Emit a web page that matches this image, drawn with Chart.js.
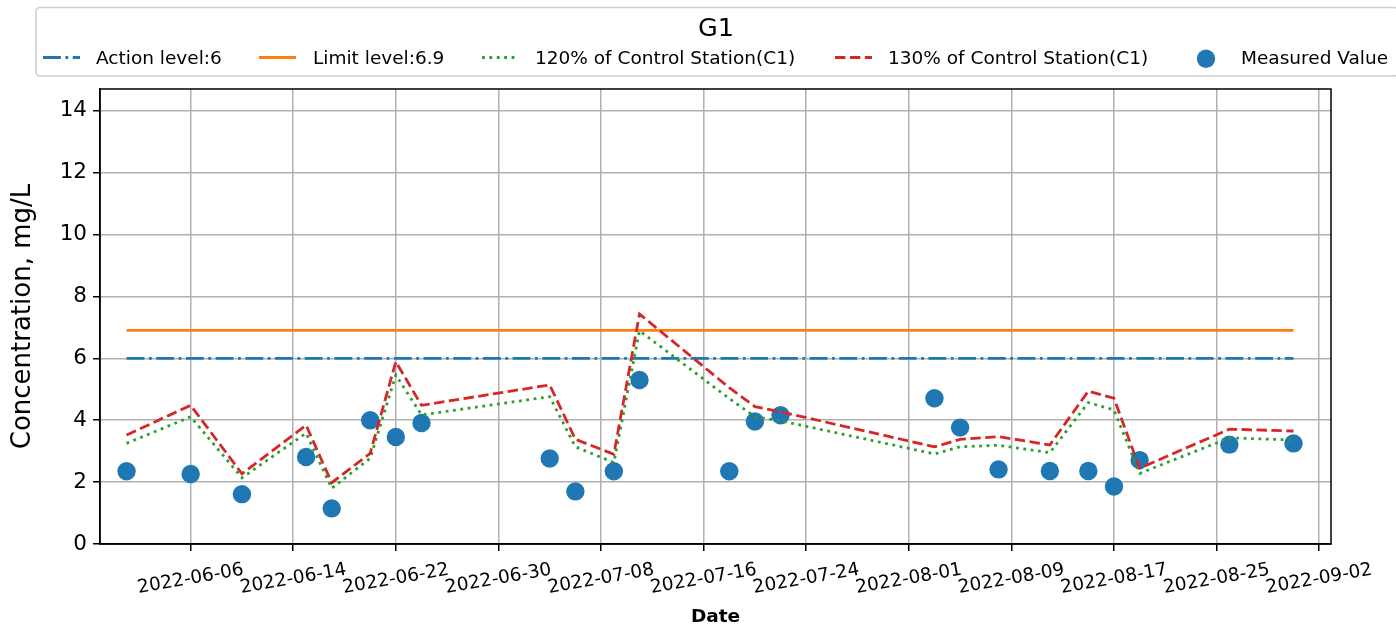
<!DOCTYPE html>
<html><head><meta charset="utf-8">
<script src="https://cdn.jsdelivr.net/npm/chart.js@4.4.1/dist/chart.umd.min.js"></script>
<style>html,body{margin:0;padding:0;background:#fff;overflow:hidden}#wrap{width:1396px;height:629px;position:relative}</style>
</head><body><div id="wrap"><canvas id="c" width="1396" height="629"></canvas></div>
<script>
// ---------- data ----------
const chartTitle = 'G1';
const seriesLabels = ['Action level:6', 'Limit level:6.9', '120% of Control Station(C1)', '130% of Control Station(C1)', 'Measured Value'];
const dates = ['2022-06-01','2022-06-06','2022-06-10','2022-06-15','2022-06-17','2022-06-20','2022-06-22','2022-06-24',
               '2022-07-04','2022-07-06','2022-07-09','2022-07-11','2022-07-18','2022-07-20','2022-07-22',
               '2022-08-03','2022-08-05','2022-08-08','2022-08-12','2022-08-15','2022-08-17','2022-08-19','2022-08-26','2022-08-31'];
const measured   = [2.35,2.26,1.61,2.81,1.15,4.00,3.46,3.91, 2.76,1.70,2.35,5.30,2.35,3.96,4.16, 4.71,3.76,2.41,2.36,2.36,1.86,2.71,3.21,3.25];
const control120 = [3.25,4.11,2.14,3.58,1.80,2.77,5.46,4.17, 4.76,3.14,2.63,6.89,4.70,4.11,3.98, 2.91,3.14,3.19,2.95,4.57,4.33,2.28,3.43,3.36];
const control130 = [3.52,4.48,2.27,3.84,1.98,2.93,5.89,4.48, 5.14,3.38,2.90,7.43,5.05,4.44,4.27, 3.14,3.38,3.47,3.20,4.94,4.71,2.45,3.71,3.65];
const actionLevel = 6;
const limitLevel = 6.9;
const xTickLabels = ['2022-06-06','2022-06-14','2022-06-22','2022-06-30','2022-07-08','2022-07-16','2022-07-24',
                     '2022-08-01','2022-08-09','2022-08-17','2022-08-25','2022-09-02'];
const yTicks = [0,2,4,6,8,10,12,14];
const xRange = ['2022-05-29T22:20:00Z','2022-09-02T22:10:00Z'];
const yRange = [0, 14.7];
const xTitle = 'Date';
const yTitle = 'Concentration, mg/L';

// ---------- chart ----------
const FONT = "'DejaVu Sans', 'Liberation Sans', sans-serif";
Chart.defaults.font.family = FONT;
Chart.defaults.color = '#000';

const toX = d => Date.parse(d.length === 10 ? d + 'T00:00:00Z' : d);
const pts = arr => dates.map((d, i) => ({x: toX(d), y: arr[i]}));
const firstX = toX(dates[0]), lastX = toX(dates[dates.length - 1]);

const COLORS = ['#1f77b4', '#ff7f0e', '#2ca02c', '#d62728', '#1f77b4'];
const LW = 2.8;
const DASHES = [[17.9, 4.5, 2.8, 4.5], [], [2.8, 4.6], [10.4, 4.5]];

const decor = {
  id: 'decor',
  afterDatasetsDraw(chart) {
    const {ctx, chartArea: a} = chart;
    ctx.save();
    ctx.strokeStyle = '#000';
    ctx.lineWidth = 1.5;
    ctx.strokeRect(a.left, a.top, a.right - a.left, a.bottom - a.top);
    ctx.restore();
  },
  afterDraw(chart) {
    const {ctx} = chart;
    const xs = chart.scales.x;
    // x tick labels, rotated 10 degrees, centred on tick
    ctx.save();
    ctx.fillStyle = '#000';
    ctx.font = '18.5px ' + FONT;
    ctx.textAlign = 'center';
    ctx.textBaseline = 'middle';
    xs.ticks.forEach(t => {
      const px = xs.getPixelForValue(t.value);
      ctx.save();
      ctx.translate(px, 579);
      ctx.rotate(-10 * Math.PI / 180);
      ctx.fillText(t.label, 0, 0);
      ctx.restore();
    });
    ctx.restore();

    // legend
    ctx.save();
    ctx.fillStyle = 'rgba(255,255,255,0.8)';
    ctx.strokeStyle = '#d0d0d0';
    ctx.lineWidth = 1.6;
    ctx.beginPath();
    ctx.roundRect(36, 7.5, 1362, 68.5, 4);
    ctx.fill();
    ctx.stroke();
    ctx.fillStyle = '#000';
    ctx.font = '25.5px ' + FONT;
    ctx.textAlign = 'center';
    ctx.textBaseline = 'alphabetic';
    ctx.fillText(chartTitle, 716, 35.7);

    const handles = [43, 259, 482, 835, 1188];
    const textX = [96, 313, 535, 888, 1241];
    const ly = 57.5;
    ctx.font = '18.5px ' + FONT;
    ctx.textAlign = 'left';
    chart.data.datasets.forEach((ds, i) => {
      const hx = handles[i];
      if (i < 4) {
        ctx.save();
        ctx.strokeStyle = COLORS[i];
        ctx.lineWidth = LW;
        ctx.setLineDash(DASHES[i]);
        ctx.lineCap = 'butt';
        ctx.beginPath();
        ctx.moveTo(hx, ly);
        ctx.lineTo(hx + 37, ly);
        ctx.stroke();
        ctx.restore();
      } else {
        ctx.save();
        ctx.fillStyle = COLORS[4];
        ctx.beginPath();
        ctx.arc(1206, 58.8, 9.2, 0, Math.PI * 2);
        ctx.fill();
        ctx.restore();
      }
      ctx.fillStyle = '#000';
      ctx.fillText(ds.label, textX[i], 64.3);
    });
    ctx.restore();
  }
};

const lineBase = {type: 'line', pointRadius: 0, pointHoverRadius: 0, borderWidth: LW, tension: 0, fill: false, borderCapStyle: 'butt'};

new Chart(document.getElementById('c'), {
  type: 'line',
  data: {
    datasets: [
      Object.assign({}, lineBase, {label: seriesLabels[0], data: [{x: firstX, y: actionLevel}, {x: lastX, y: actionLevel}],
        borderColor: COLORS[0], backgroundColor: COLORS[0], borderDash: DASHES[0], order: 4}),
      Object.assign({}, lineBase, {label: seriesLabels[1], data: [{x: firstX, y: limitLevel}, {x: lastX, y: limitLevel}],
        borderColor: COLORS[1], backgroundColor: COLORS[1], order: 3}),
      Object.assign({}, lineBase, {label: seriesLabels[2], data: pts(control120),
        borderColor: COLORS[2], backgroundColor: COLORS[2], borderDash: DASHES[2], order: 2}),
      Object.assign({}, lineBase, {label: seriesLabels[3], data: pts(control130),
        borderColor: COLORS[3], backgroundColor: COLORS[3], borderDash: DASHES[3], order: 1}),
      {type: 'scatter', label: seriesLabels[4], data: pts(measured), showLine: false,
        pointRadius: 9.2, pointHoverRadius: 9.2, pointBackgroundColor: COLORS[4], backgroundColor: COLORS[4],
        pointBorderWidth: 0, borderWidth: 0, order: 5}
    ]
  },
  options: {
    responsive: false,
    animation: false,
    devicePixelRatio: 1,
    layout: {padding: {left: 0, right: 65, top: 89, bottom: 0}},
    plugins: {legend: {display: false}, tooltip: {enabled: false}, title: {display: false}},
    events: [],
    scales: {
      x: {
        type: 'linear', position: 'bottom',
        min: toX(xRange[0]), max: toX(xRange[1]),
        afterBuildTicks: s => { s.ticks = xTickLabels.map(d => ({value: toX(d)})); },
        afterFit: s => { s.height = 85; },
        grid: {color: '#b0b0b0', lineWidth: 1.5, tickColor: '#000', tickWidth: 1.5, tickLength: 7, drawTicks: true},
        border: {display: true, color: '#000', width: 1.5},
        ticks: {color: 'rgba(0,0,0,0)', maxRotation: 0, minRotation: 0, autoSkip: false, font: {size: 18.5},
          callback: v => new Date(v).toISOString().slice(0, 10)},
        title: {display: true, text: xTitle, color: '#000', font: {size: 18.5, weight: 'bold'}, padding: {top: 0, bottom: 1}}
      },
      y: {
        type: 'linear', position: 'left',
        min: yRange[0], max: yRange[1],
        afterBuildTicks: s => { s.ticks = yTicks.map(v => ({value: v})); },
        afterFit: s => { s.width = 100; },
        grid: {color: '#b0b0b0', lineWidth: 1.5, tickColor: '#000', tickWidth: 1.5, tickLength: 7, drawTicks: true},
        border: {display: true, color: '#000', width: 1.5},
        ticks: {color: '#000', font: {size: 21.5}, padding: 6},
        title: {display: true, text: yTitle, color: '#000', font: {size: 26}, padding: {top: 7.4, bottom: 0}}
      }
    }
  },
  plugins: [decor]
});
</script></body></html>
